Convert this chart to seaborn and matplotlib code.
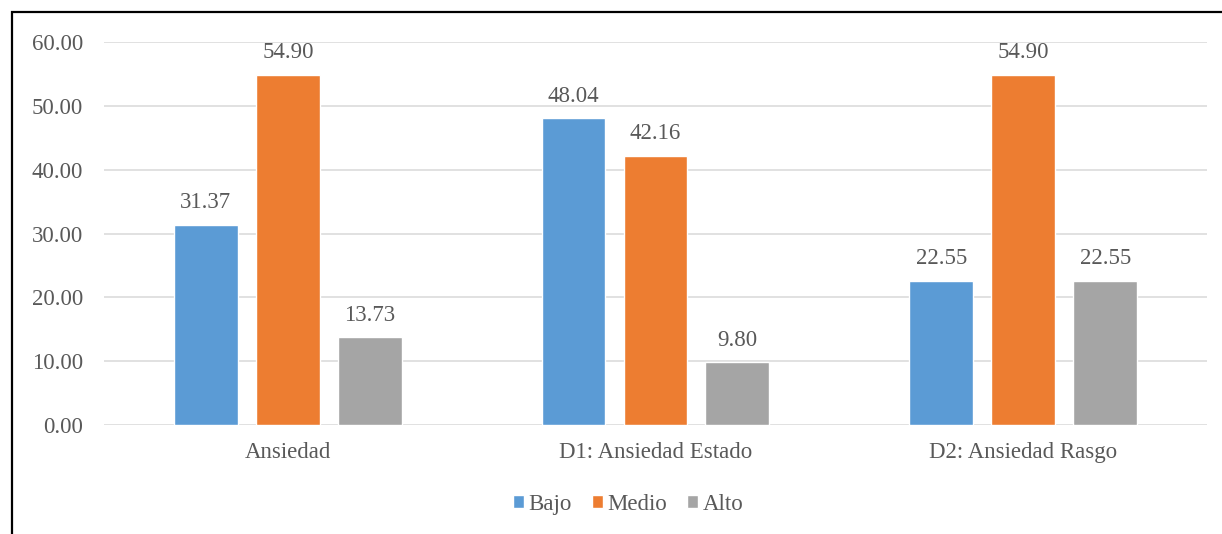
import matplotlib
matplotlib.use("Agg")
import matplotlib.pyplot as plt
from matplotlib.patches import Rectangle
from matplotlib.ticker import MultipleLocator, FormatStrFormatter
import pandas as pd
import seaborn as sns

# Porcentajes por dimensión y nivel
categorias = ["Ansiedad", "D1: Ansiedad Estado", "D2: Ansiedad Rasgo"]
niveles = ["Bajo", "Medio", "Alto"]
bajo = [31.37, 48.04, 22.55]
medio = [54.90, 42.16, 54.90]
alto = [13.73, 9.80, 22.55]
colores = ["#5B9BD5", "#ED7D31", "#A5A5A5"]

df = pd.DataFrame({
    "categoria": categorias * 3,
    "nivel": [n for n in niveles for _ in categorias],
    "valor": bajo + medio + alto,
})

sns.set_theme(style="white")
plt.rcParams["font.family"] = "serif"
plt.rcParams["font.serif"] = ["Liberation Serif", "DejaVu Serif"]
fuente = "Liberation Serif"
texto = "#595959"
tam = 16.5

fig = plt.figure(figsize=(12.22, 5.34), dpi=100)
ax = fig.add_axes([0.0851, 0.2041, 0.9026, 0.7172])

sns.barplot(data=df, x="categoria", y="valor", hue="nivel",
            order=categorias, hue_order=niveles, palette=colores,
            saturation=1, width=0.669, gap=0.22, errorbar=None, ax=ax,
            zorder=3)

for cont in ax.containers:
    ax.bar_label(cont, fmt="%.2f", padding=8.5, fontsize=tam, color=texto,
                 family=fuente)

ax.set_ylim(0, 60)
ax.set_xlim(-0.5, 2.5)
ax.yaxis.set_major_locator(MultipleLocator(10))
ax.yaxis.set_major_formatter(FormatStrFormatter("%.2f"))
ax.grid(axis="y", color="#D9D9D9", linewidth=1.1, zorder=0)
ax.set_axisbelow(True)
for s in ax.spines.values():
    s.set_visible(False)
ax.tick_params(axis="y", length=0, pad=15, labelsize=tam, labelcolor=texto)
ax.tick_params(axis="x", length=0, pad=12, labelsize=tam, labelcolor=texto)
for lab in ax.get_xticklabels() + ax.get_yticklabels():
    lab.set_family(fuente)
ax.set_xlabel("")
ax.set_ylabel("")

sns.move_legend(ax, "center", bbox_to_anchor=(0.514, 0.056),
                bbox_transform=fig.transFigure, ncol=3, frameon=False,
                title=None, prop={"family": fuente, "size": tam},
                handlelength=0.5, handleheight=0.5,
                handletextpad=0.2, columnspacing=0.85)
for t in ax.get_legend().get_texts():
    t.set_color(texto)

# Marco del gráfico
fig.patches.append(Rectangle((12 / 1222, -0.1), 1.2, 1 - 12.5 / 534 + 0.1,
                             transform=fig.transFigure, fill=False,
                             edgecolor="black", linewidth=1.6,
                             clip_on=False))

fig.savefig("out.png", dpi=100, facecolor="white")
